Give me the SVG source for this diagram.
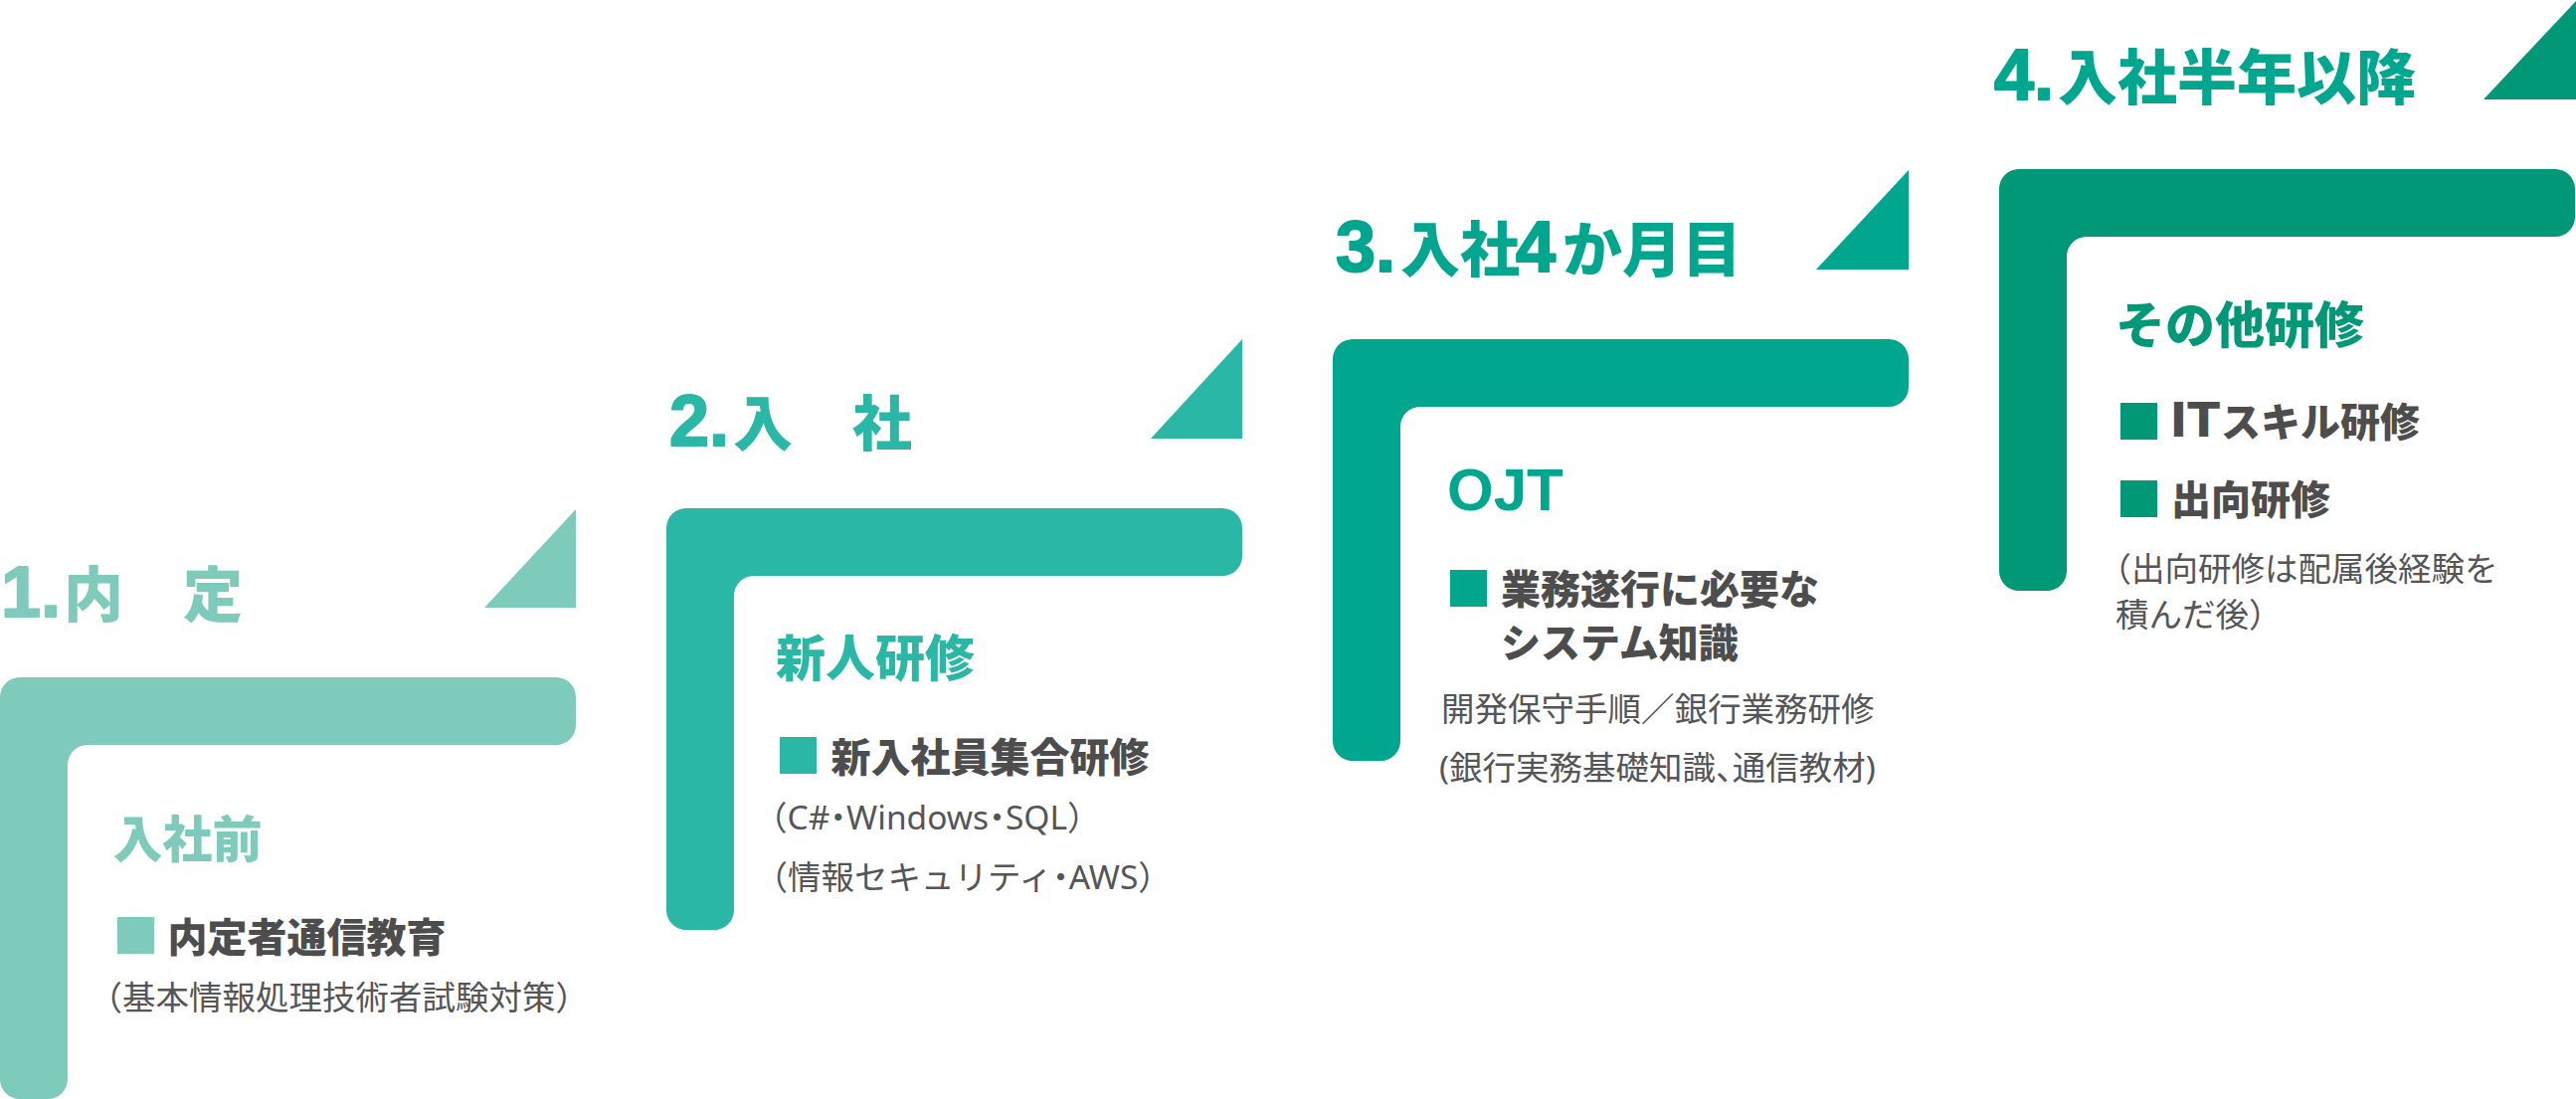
<svg xmlns="http://www.w3.org/2000/svg" xmlns:xlink="http://www.w3.org/1999/xlink" width="2590" height="1105" viewBox="0 0 2590 1105">
<style>
text{font-family:"Noto Sans CJK JP","Noto Sans",sans-serif;}
.title{font-size:60px;font-weight:900;}
.num{font-family:"Liberation Sans",Arial,sans-serif;font-size:72px;font-weight:700;stroke-width:2;stroke-linejoin:round;}
.lat{font-family:"Liberation Sans",Arial,sans-serif;font-weight:700;}
.lat2{font-family:"DejaVu Sans",sans-serif;font-weight:700;}
.head{font-size:50px;font-weight:900;}
.item{font-size:40px;font-weight:900;fill:#4d4d4d;}
.note{font-family:"Noto Sans","Noto Sans CJK JP",sans-serif;font-size:33.5px;font-weight:400;fill:#555555;}
.h{font-family:"Noto Sans CJK JP",sans-serif;font-feature-settings:"halt" 1;}
.c1{fill:#7ecabb;}
.c2{fill:#2bb7a5;}
.c3{fill:#00a68e;}
.c4{fill:#009877;}
.s1{stroke:#7ecabb;}
.s2{stroke:#2bb7a5;}
.s3{stroke:#00a68e;}
</style>
<defs>
<path id="L" d="M20,0 H559 A20,20 0 0 1 579,20 V48 A20,20 0 0 1 559,68 H88 A20,20 0 0 0 68,88 V404 A20,20 0 0 1 48,424 H20 A20,20 0 0 1 0,404 V20 A20,20 0 0 1 20,0 Z"/>
</defs>
<rect width="2590" height="1105" fill="#ffffff"/>
<g id="connectors"></g>

<g id="step1">
<use xlink:href="#L" href="#L" x="0" y="681" class="c1"/>
<polygon class="c1" points="487,611 579,611 579,512"/>
<text class="title c1"><tspan class="num s1" x="1" y="620">1.</tspan><tspan x="64" y="620">内　定</tspan></text>
<text class="head c1" x="113.5" y="862">入社前</text>
<rect class="c1" x="118" y="922" width="37" height="37"/>
<text class="item" x="168.5" y="957">内定者通信教育</text>
<text class="note" x="89.5" y="1015">（基本情報処理技術者試験対策）</text>
</g>

<g id="step2">
<use xlink:href="#L" href="#L" x="670" y="511" class="c2"/>
<polygon class="c2" points="1157,441 1249,441 1249,341"/>
<text class="title c2"><tspan class="num s2" x="673" y="448">2.</tspan><tspan x="737" y="448">入　社</tspan></text>
<text class="head c2" x="780" y="680">新人研修</text>
<rect class="c2" x="784" y="741" width="37" height="37"/>
<text class="item" x="835.5" y="776">新入社員集合研修</text>
<text class="note" x="758" y="834">（C#<tspan class="h">・</tspan>Windows<tspan class="h">・</tspan>SQL）</text>
<text class="note" x="758.5" y="894">（情報セキュリティ<tspan class="h">・</tspan>AWS）</text>
</g>

<g id="step3">
<use xlink:href="#L" href="#L" x="1340" y="341" class="c3"/>
<polygon class="c3" points="1826,271 1919,271 1919,171"/>
<text class="title c3"><tspan class="num s3" x="1343" y="273">3.</tspan><tspan x="1408" y="273">入社</tspan><tspan class="num s3" x="1524" y="273">4</tspan><tspan x="1571" y="273">か月目</tspan></text>
<text class="head c3 lat" x="1455" y="513" style="font-size:60px">OJT</text>
<rect class="c3" x="1458" y="573" width="37" height="37"/>
<text class="item" x="1509" y="607">業務遂行に必要な</text>
<text class="item" x="1509" y="661">システム知識</text>
<text class="note" x="1449" y="725">開発保守手順／銀行業務研修</text>
<text class="note" x="1447" y="784">(銀行実務基礎知識<tspan class="h">、</tspan>通信教材)</text>
</g>

<g id="step4">
<use xlink:href="#L" href="#L" x="2010" y="170" class="c4"/>
<polygon class="c4" points="2497,100 2590,100 2590,1"/>
<text class="title c3"><tspan class="num s3" x="2005" y="100">4.</tspan><tspan x="2069" y="100">入社半年以降</tspan></text>
<text class="head c4" x="2127" y="345">その他研修</text>
<rect class="c4" x="2132" y="405" width="37" height="37"/>
<text class="item"><tspan class="lat2" x="2181.5" y="439" style="font-size:48px">IT</tspan><tspan x="2233" y="439">スキル研修</tspan></text>
<rect class="c4" x="2132" y="483" width="37" height="37"/>
<text class="item" x="2183" y="517">出向研修</text>
<text class="note" x="2109.5" y="584">（出向研修は配属後経験を</text>
<text class="note" x="2127" y="630">積んだ後）</text>
</g>
</svg>
